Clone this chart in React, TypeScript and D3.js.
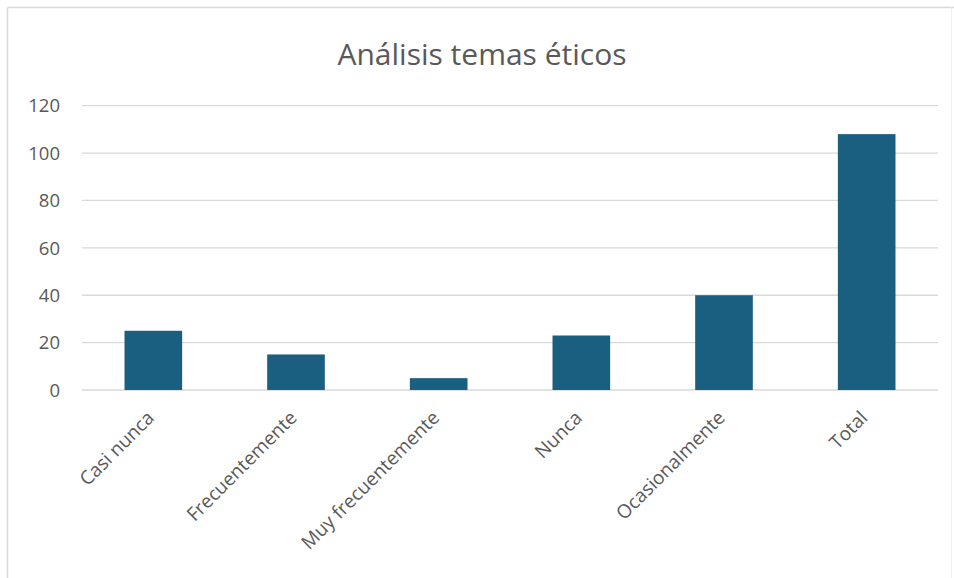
import React from "react";
import * as d3 from "d3";

const categories = ["Casi nunca", "Frecuentemente", "Muy frecuentemente", "Nunca", "Ocasionalmente", "Total"];
const values = [25, 15, 5, 23, 40, 108];
const yTicks = [0, 20, 40, 60, 80, 100, 120];
const title = "Análisis temas éticos";

const W = 954;
const H = 578;
const plot = { left: 82, right: 938, top: 105.7, bottom: 390 };
const FONT = "'Open Sans', sans-serif";

export default function App() {
  const x = d3
    .scaleBand<string>()
    .domain(categories)
    .range([plot.left, plot.right])
    .paddingInner(0.596)
    .paddingOuter(0.298);
  const y = d3.scaleLinear().domain([0, 120]).range([plot.bottom, plot.top]);

  return (
    <svg
      width={W}
      height={H}
      style={{ position: "absolute", left: 0, top: 0, display: "block", background: "#fff" }}
    >
      <rect x={0} y={0} width={W} height={H} fill="#fff" />
      <line x1={7.5} y1={7.5} x2={W} y2={7.5} stroke="#d9d9d9" strokeWidth={1.5} />
      <line x1={7.5} y1={7.5} x2={7.5} y2={H} stroke="#d9d9d9" strokeWidth={1.5} />
      <line x1={951.5} y1={7.5} x2={951.5} y2={H} stroke="#f0f0f0" strokeWidth={1} />
      <text x={482} y={65} textAnchor="middle" fontFamily={FONT} fontSize={30} fill="#595959">
        {title}
      </text>
      {yTicks.map((t) => (
        <g key={t}>
          <line x1={plot.left} x2={plot.right} y1={y(t)} y2={y(t)} stroke="#d9d9d9" strokeWidth={1.3} />
          <text
            x={60}
            y={y(t)}
            dy="0.36em"
            textAnchor="end"
            fontFamily={FONT}
            fontSize={18.5}
            fill="#595959"
          >
            {t}
          </text>
        </g>
      ))}
      {categories.map((c, i) => (
        <rect
          key={c}
          x={x(c)}
          y={y(values[i])}
          width={x.bandwidth()}
          height={y(0) - y(values[i])}
          fill="#1a5e80"
        />
      ))}
      {categories.map((c) => {
        const cx = (x(c) as number) + x.bandwidth() / 2 + 2;
        const cy = 419;
        return (
          <text
            key={c}
            transform={`translate(${cx},${cy}) rotate(-45)`}
            textAnchor="end"
            fontFamily={FONT}
            fontSize={19}
            fill="#595959"
          >
            {c}
          </text>
        );
      })}
    </svg>
  );
}
